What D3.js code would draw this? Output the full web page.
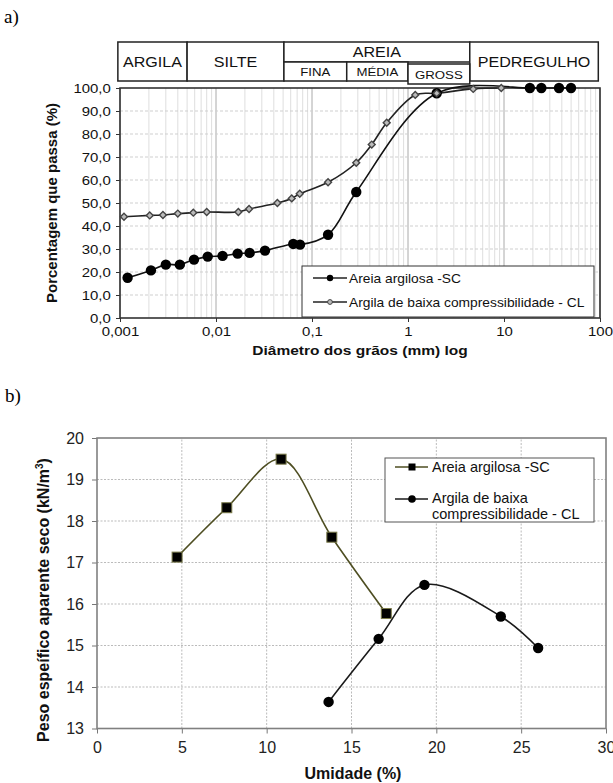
<!DOCTYPE html>
<html><head><meta charset="utf-8">
<script src="https://cdn.jsdelivr.net/npm/d3@7"></script>
<style>body{margin:0;background:#fff}svg{display:block}</style>
</head><body><svg id="c" width="613" height="783"></svg>
<script>
// ---------- Chart a) data: particle size distribution ----------
const scDiam = [0.0012, 0.0021, 0.003, 0.0042, 0.0059, 0.0082, 0.0117, 0.0168, 0.0224, 0.0324, 0.0638, 0.075, 0.147, 0.289, 1.99, 18.6, 24.5, 37.4, 49.9];
const scPass = [17.5, 20.7, 23.2, 23.2, 25.4, 26.7, 27.0, 28.0, 28.3, 29.3, 32.2, 31.9, 36.2, 54.8, 97.7, 100, 100, 100, 100];
const clDiam = [0.0011, 0.00204, 0.0028, 0.004, 0.0058, 0.008, 0.0171, 0.0221, 0.0436, 0.0615, 0.0745, 0.147, 0.289, 0.419, 0.6, 1.19, 1.99, 4.78, 9.37];
const clPass = [44.0, 44.6, 44.8, 45.4, 45.8, 46.1, 46.1, 47.4, 50.0, 52.0, 54.0, 59.0, 67.5, 75.4, 84.9, 97.0, 97.7, 99.6, 100];
const yTicksA = [0, 10, 20, 30, 40, 50, 60, 70, 80, 90, 100];
const xTicksA = [0.001, 0.01, 0.1, 1, 10, 100];
const xTickLabelsA = ["0,001", "0,01", "0,1", "1", "10", "100"];
const classNames = ["ARGILA", "SILTE", "AREIA", "PEDREGULHO"];
const classBounds = [0.00095, 0.005, 0.051, 4.4, 96];
const sandNames = ["FINA", "MÉDIA", "GROSS"];
const sandBounds = [0.051, 0.23, 1.0, 4.4];
const legendA = ["Areia argilosa -SC", "Argila de baixa compressibilidade - CL"];

// ---------- Chart b) data: compaction ----------
const scUmid = [4.72, 7.65, 10.85, 13.84, 17.05];
const scPeso = [17.13, 18.32, 19.49, 17.61, 15.77];
const clUmid = [13.65, 16.6, 19.3, 23.8, 26.0];
const clPeso = [13.64, 15.16, 16.46, 15.7, 14.94];
const xTicksB = [0, 5, 10, 15, 20, 25, 30];
const yTicksB = [13, 14, 15, 16, 17, 18, 19, 20];

const svg = d3.select("#c");
const SX = 1.15; // horizontal stretch of the chart a) texts
const FONT = "Arial, 'Liberation Sans', sans-serif";

function stext(g, x, y, str, size, anchor, weight) {
  return g.append("text")
    .attr("transform", `translate(${x},${y}) scale(${SX},1)`)
    .attr("text-anchor", anchor || "middle")
    .attr("font-family", FONT).attr("font-size", size)
    .attr("font-weight", weight || "normal").attr("fill", "#111")
    .text(str);
}

// labels a) b)
svg.append("text").attr("x", 4).attr("y", 23).attr("font-family", "'Liberation Serif', 'Times New Roman', serif")
  .attr("font-size", 19).text("a)");
svg.append("text").attr("x", 5).attr("y", 402).attr("font-family", "'Liberation Serif', 'Times New Roman', serif")
  .attr("font-size", 19).text("b)");

// ================= Chart a =================
const xA = d3.scaleLog().domain([0.001, 100]).range([120, 600]);
const yA = d3.scaleLinear().domain([0, 100]).range([318, 88]);
const gA = svg.append("g");

// grid
gA.append("g").selectAll("line").data(xA.ticks()).join("line")
  .attr("x1", d => xA(d)).attr("x2", d => xA(d)).attr("y1", yA(0)).attr("y2", yA(100))
  .attr("stroke", d => Math.abs(Math.log10(d) - Math.round(Math.log10(d))) < 1e-9 ? "#aaa" : "#dedede")
  .attr("stroke-width", 1);
gA.append("g").selectAll("line").data(yTicksA.slice(1, -1)).join("line")
  .attr("x1", xA(0.001)).attr("x2", xA(100)).attr("y1", d => yA(d)).attr("y2", d => yA(d))
  .attr("stroke", "#cfcfcf").attr("stroke-dasharray", "3,2");

// axes
const axLA = gA.append("g").attr("transform", `translate(${xA(0.001)},0)`)
  .call(d3.axisLeft(yA).tickValues(yTicksA).tickFormat(d => d.toFixed(1).replace(".", ",")).tickSize(4).tickPadding(4));
const axBA = gA.append("g").attr("transform", `translate(0,${yA(0)})`)
  .call(d3.axisBottom(xA).tickValues(xTicksA).tickFormat((d, i) => xTickLabelsA[i]).tickSize(4).tickPadding(5));
[axLA, axBA].forEach(ax => {
  ax.select(".domain").remove();
  ax.selectAll("line").attr("stroke", "#333");
  ax.selectAll("text").attr("font-family", FONT).attr("font-size", 13).attr("fill", "#111")
    .attr("transform", `scale(${SX},1)`);
});

// frame
gA.append("rect").attr("x", xA(0.001)).attr("y", yA(100)).attr("width", xA(100) - xA(0.001)).attr("height", yA(0) - yA(100))
  .attr("fill", "none").attr("stroke", "#333").attr("stroke-width", 1.6);

// header classification boxes
const hTop = 42, hMid = 62, hBot = 81;
const hdr = gA.append("g");
classNames.forEach((n, i) => {
  const x0 = xA(classBounds[i]), x1 = xA(classBounds[i + 1]);
  const isSand = n === "AREIA";
  hdr.append("rect").attr("x", x0).attr("y", hTop).attr("width", x1 - x0).attr("height", (isSand ? hMid : hBot) - hTop)
    .attr("fill", "#fff").attr("stroke", "#222").attr("stroke-width", 1.5);
  stext(hdr, (x0 + x1) / 2, isSand ? 57 : 67, n, 14);
});
sandNames.forEach((n, i) => {
  const x0 = xA(sandBounds[i]), x1 = xA(sandBounds[i + 1]);
  const gross = i === 2;
  const y0 = gross ? hMid + 2 : hMid, y1 = gross ? hBot + 3 : hBot;
  hdr.append("rect").attr("x", x0).attr("y", y0).attr("width", x1 - x0).attr("height", y1 - y0)
    .attr("fill", "#fff").attr("stroke", "#222").attr("stroke-width", 1.5);
  stext(hdr, (x0 + x1) / 2, gross ? 79 : 76, n, 11.5);
});

// lines
const curveA = d3.line().x(d => xA(d[0])).y(d => yA(d[1])).curve(d3.curveCatmullRom.alpha(0.5));
const scA = scDiam.map((d, i) => [d, scPass[i]]);
const clA = clDiam.map((d, i) => [d, clPass[i]]);
gA.append("path").attr("d", curveA(scA)).attr("fill", "none").attr("stroke", "#111").attr("stroke-width", 1.6);
gA.append("path").attr("d", curveA(clA)).attr("fill", "none").attr("stroke", "#222").attr("stroke-width", 1.6);
gA.append("g").selectAll("circle").data(scA).join("circle")
  .attr("cx", d => xA(d[0])).attr("cy", d => yA(d[1])).attr("r", 5.2).attr("fill", "#000");
const diamond = d3.symbol().type(d3.symbolSquare).size(24);
gA.append("g").selectAll("path").data(clA).join("path")
  .attr("d", diamond).attr("transform", d => `translate(${xA(d[0])},${yA(d[1])}) rotate(45)`)
  .attr("fill", "#bbb").attr("stroke", "#444").attr("stroke-width", 1.4);

// legend a
const lgA = gA.append("g");
lgA.append("rect").attr("x", 302).attr("y", 266).attr("width", 292).attr("height", 51)
  .attr("fill", "#fff").attr("stroke", "#333").attr("stroke-width", 1);
[278, 302].forEach((yy, i) => {
  lgA.append("line").attr("x1", 313).attr("x2", 347).attr("y1", yy).attr("y2", yy).attr("stroke", "#222").attr("stroke-width", 1.6);
  if (i === 0) lgA.append("circle").attr("cx", 330).attr("cy", yy).attr("r", 3.2).attr("fill", "#000");
  else lgA.append("circle").attr("cx", 330).attr("cy", yy).attr("r", 2.4).attr("fill", "#bbb").attr("stroke", "#444").attr("stroke-width", 1);
  stext(lgA, 349, yy + 4.5, legendA[i], 12, "start");
});

// titles a
stext(gA, 360, 355, "Diâmetro dos grãos (mm) log", 13.5, "middle", "bold");
gA.append("text").attr("transform", "translate(57,203) rotate(-90)").attr("text-anchor", "middle")
  .attr("font-family", FONT).attr("font-size", 15).attr("font-weight", "bold").attr("fill", "#111")
  .text("Porcentagem que passa (%)");

// ================= Chart b =================
const xB = d3.scaleLinear().domain([0, 30]).range([97, 606]);
const yB = d3.scaleLinear().domain([13, 20]).range([728.5, 438]);
const gB = svg.append("g");

gB.append("g").selectAll("line").data(xTicksB.slice(1, -1)).join("line")
  .attr("x1", d => xB(d)).attr("x2", d => xB(d)).attr("y1", yB(13)).attr("y2", yB(20))
  .attr("stroke", "#bbb").attr("stroke-dasharray", "2,1.5");
gB.append("g").selectAll("line").data(yTicksB.slice(1, -1)).join("line")
  .attr("x1", xB(0)).attr("x2", xB(30)).attr("y1", d => yB(d)).attr("y2", d => yB(d))
  .attr("stroke", "#bbb").attr("stroke-dasharray", "2,1.5");

const axLB = gB.append("g").attr("transform", `translate(${xB(0)},0)`)
  .call(d3.axisLeft(yB).tickValues(yTicksB).tickFormat(d3.format("d")).tickSize(5).tickPadding(8));
const axBB = gB.append("g").attr("transform", `translate(0,${yB(13)})`)
  .call(d3.axisBottom(xB).tickValues(xTicksB).tickFormat(d3.format("d")).tickSize(5).tickPadding(8));
[axLB, axBB].forEach(ax => {
  ax.select(".domain").remove();
  ax.selectAll("line").attr("stroke", "#777");
  ax.selectAll("text").attr("font-family", FONT).attr("font-size", 16).attr("fill", "#222");
});
gB.append("rect").attr("x", xB(0)).attr("y", yB(20)).attr("width", xB(30) - xB(0)).attr("height", yB(13) - yB(20))
  .attr("fill", "none").attr("stroke", "#808080").attr("stroke-width", 1.6);

const curveB = d3.line().x(d => xB(d[0])).y(d => yB(d[1])).curve(d3.curveCatmullRom.alpha(0.5));
const scB = scUmid.map((d, i) => [d, scPeso[i]]);
const clB = clUmid.map((d, i) => [d, clPeso[i]]);
const olive = "#4e4e22";
gB.append("path").attr("d", curveB(scB)).attr("fill", "none").attr("stroke", olive).attr("stroke-width", 1.6);
gB.append("path").attr("d", curveB(clB)).attr("fill", "none").attr("stroke", "#1a1a1a").attr("stroke-width", 1.6);
gB.append("g").selectAll("rect").data(scB).join("rect")
  .attr("x", d => xB(d[0]) - 5).attr("y", d => yB(d[1]) - 5).attr("width", 10).attr("height", 10)
  .attr("fill", "#000").attr("stroke", "#7a7a4a").attr("stroke-width", 1);
gB.append("g").selectAll("circle").data(clB).join("circle")
  .attr("cx", d => xB(d[0])).attr("cy", d => yB(d[1])).attr("r", 5.2).attr("fill", "#000");

// legend b
const lgB = gB.append("g");
lgB.append("rect").attr("x", 385).attr("y", 458).attr("width", 209).attr("height", 64)
  .attr("fill", "#fff").attr("stroke", "#555").attr("stroke-width", 1);
lgB.append("line").attr("x1", 395).attr("x2", 428).attr("y1", 467).attr("y2", 467).attr("stroke", olive).attr("stroke-width", 1.6);
lgB.append("rect").attr("x", 408.5).attr("y", 463.5).attr("width", 7).attr("height", 7).attr("fill", "#000");
lgB.append("line").attr("x1", 395).attr("x2", 428).attr("y1", 499).attr("y2", 499).attr("stroke", "#1a1a1a").attr("stroke-width", 1.6);
lgB.append("circle").attr("cx", 412).attr("cy", 499).attr("r", 3.8).attr("fill", "#000");
const lgTxt = (x, y, s) => lgB.append("text").attr("x", x).attr("y", y).attr("font-family", FONT)
  .attr("font-size", 14.5).attr("fill", "#111").text(s);
lgTxt(432, 472, "Areia argilosa -SC");
lgTxt(432, 503, "Argila de baixa");
lgTxt(432, 519, "compressibilidade - CL");

// titles b
gB.append("text").attr("x", 353).attr("y", 779).attr("text-anchor", "middle").attr("font-family", FONT)
  .attr("font-size", 16).attr("font-weight", "bold").attr("fill", "#111").text("Umidade (%)");
const yt = gB.append("text").attr("transform", "translate(49,600) rotate(-90)").attr("text-anchor", "middle")
  .attr("font-family", FONT).attr("font-size", 16).attr("font-weight", "bold").attr("fill", "#111");
yt.append("tspan").text("Peso espeífico aparente seco (kN/m");
yt.append("tspan").attr("font-size", 10).attr("dy", -6).text("3");
yt.append("tspan").attr("dy", 6).text(")");
</script></body></html>
